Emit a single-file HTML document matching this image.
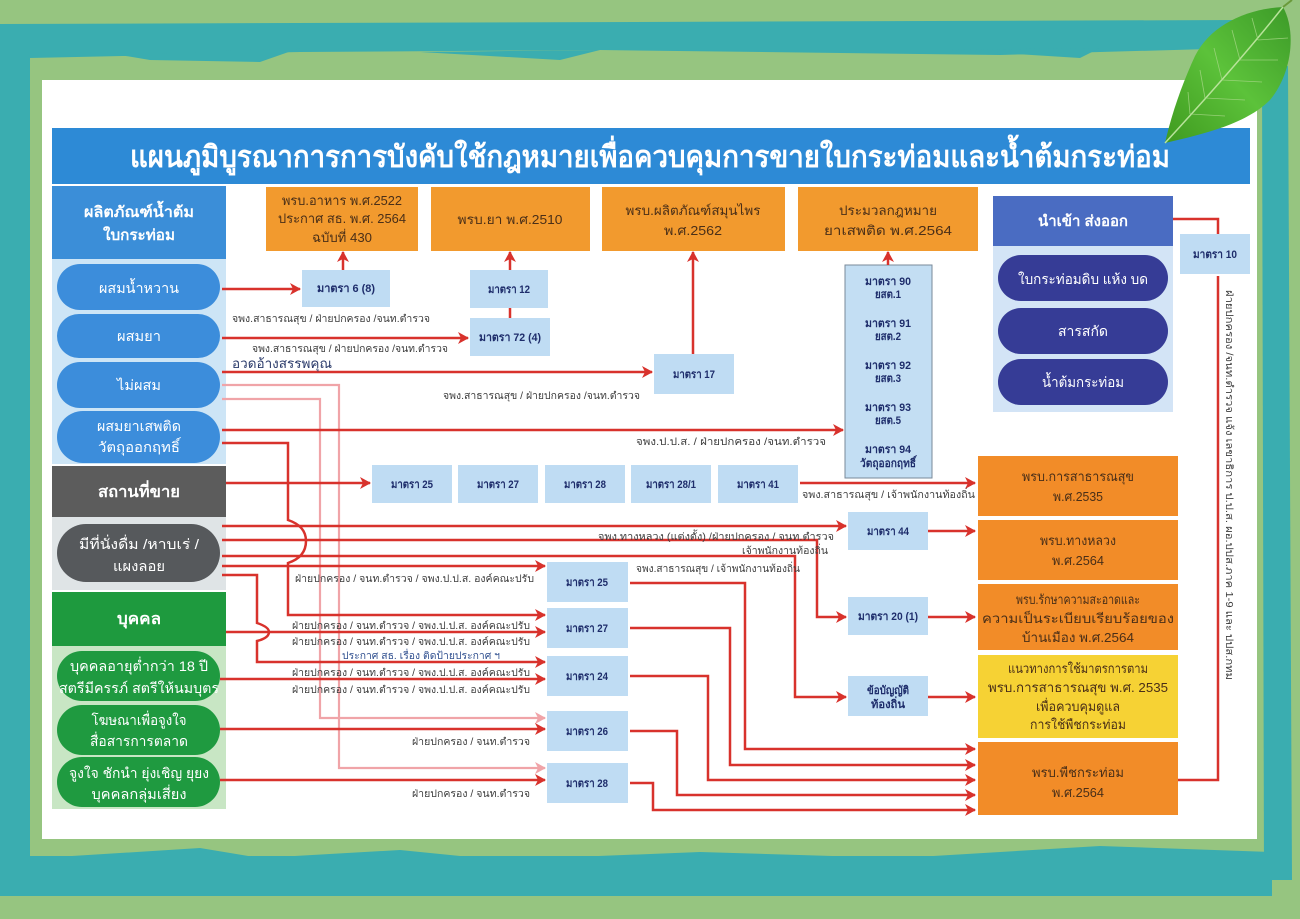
<!DOCTYPE html>
<html><head><meta charset="utf-8"><style>
html,body{margin:0;padding:0;background:#96c580;}
svg{display:block;}
text{font-family:"Liberation Sans","DejaVu Sans",sans-serif;}
</style></head><body>
<svg width="1300" height="919" viewBox="0 0 1300 919" xmlns="http://www.w3.org/2000/svg">
<defs>
<marker id="ar" markerUnits="userSpaceOnUse" markerWidth="12" markerHeight="12" refX="10" refY="6" orient="auto"><path d="M0,0 L11,6 L0,12 L3,6 z" fill="#d8322c"/></marker>
<marker id="ap" markerUnits="userSpaceOnUse" markerWidth="12" markerHeight="12" refX="10" refY="6" orient="auto"><path d="M0,0 L11,6 L0,12 L3,6 z" fill="#f0a4a8"/></marker>
<linearGradient id="lf" x1="0" y1="1" x2="1" y2="0"><stop offset="0" stop-color="#3f9a1f"/><stop offset="0.5" stop-color="#5cc23a"/><stop offset="1" stop-color="#3c9a28"/></linearGradient>
</defs>
<!-- frame -->
<rect x="0" y="0" width="1300" height="919" fill="#96c580"/>
<path d="M0,24 L1240,20 L1245,48 L1100,52 L1000,55 L600,50 L300,52 L30,58 L30,895 L0,895 Z" fill="#3aadb0"/>
<path d="M120,55 L300,48 L260,62 L150,60 Z M420,52 L600,50 L560,60 Z M950,50 L1100,48 L1080,58 Z" fill="#3aadb0"/>
<rect x="0" y="856" width="1272" height="40" fill="#3aadb0"/>
<path d="M40,858 L200,848 L260,858 L400,850 L500,860 L700,852 L900,858 L1100,846 L1272,852 L1272,862 L40,862 Z" fill="#3aadb0"/>
<path d="M1262,70 L1288,66 L1292,880 L1264,880 Z" fill="#3aadb0"/>
<rect x="42" y="80" width="1215" height="759" fill="#ffffff"/>
<!-- title -->
<rect x="52" y="128" width="1198" height="56" fill="#2d8ad6"/>
<text x="650" y="167" font-size="30" font-weight="bold" fill="#fff" text-anchor="middle" textLength="1040" lengthAdjust="spacingAndGlyphs">แผนภูมิบูรณาการการบังคับใช้กฎหมายเพื่อควบคุมการขายใบกระท่อมและน้ำต้มกระท่อม</text>

<!-- left column -->
<rect x="52" y="186" width="174" height="73" fill="#3b8ed8"/>
<text x="139" y="217" font-size="15" font-weight="bold" fill="#fff" text-anchor="middle" textLength="110" lengthAdjust="spacingAndGlyphs">ผลิตภัณฑ์น้ำต้ม</text>
<text x="139" y="240" font-size="15" font-weight="bold" fill="#fff" text-anchor="middle" textLength="72" lengthAdjust="spacingAndGlyphs">ใบกระท่อม</text>
<rect x="52" y="259" width="174" height="205" fill="#cde5f6"/>
<rect x="57" y="264" width="163" height="46" rx="23" fill="#3c8ddb"/>
<rect x="57" y="314" width="163" height="44" rx="22" fill="#3c8ddb"/>
<rect x="57" y="362" width="163" height="46" rx="23" fill="#3c8ddb"/>
<rect x="57" y="411" width="163" height="52" rx="26" fill="#3c8ddb"/>
<text x="139" y="293" font-size="14" fill="#fff" text-anchor="middle" textLength="80" lengthAdjust="spacingAndGlyphs">ผสมน้ำหวาน</text>
<text x="139" y="341" font-size="14" fill="#fff" text-anchor="middle" textLength="44" lengthAdjust="spacingAndGlyphs">ผสมยา</text>
<text x="139" y="390" font-size="14" fill="#fff" text-anchor="middle" textLength="44" lengthAdjust="spacingAndGlyphs">ไม่ผสม</text>
<text x="139" y="431" font-size="14" fill="#fff" text-anchor="middle" textLength="84" lengthAdjust="spacingAndGlyphs">ผสมยาเสพติด</text>
<text x="139" y="452" font-size="14" fill="#fff" text-anchor="middle" textLength="82" lengthAdjust="spacingAndGlyphs">วัตถุออกฤทธิ์</text>

<rect x="52" y="466" width="174" height="51" fill="#5c5c5c"/>
<text x="139" y="497" font-size="16" font-weight="bold" fill="#fff" text-anchor="middle" textLength="82" lengthAdjust="spacingAndGlyphs">สถานที่ขาย</text>
<rect x="52" y="517" width="174" height="73" fill="#dfe4e6"/>
<rect x="57" y="524" width="163" height="58" rx="29" fill="#56595c"/>
<text x="139" y="549" font-size="14" fill="#fff" text-anchor="middle" textLength="120" lengthAdjust="spacingAndGlyphs">มีที่นั่งดื่ม /หาบเร่ /</text>
<text x="139" y="571" font-size="14" fill="#fff" text-anchor="middle" textLength="52" lengthAdjust="spacingAndGlyphs">แผงลอย</text>

<rect x="52" y="592" width="174" height="54" fill="#1e9a3e"/>
<text x="139" y="624" font-size="16" font-weight="bold" fill="#fff" text-anchor="middle" textLength="44" lengthAdjust="spacingAndGlyphs">บุคคล</text>
<rect x="52" y="646" width="174" height="163" fill="#c8e6c4"/>
<rect x="57" y="651" width="163" height="50" rx="25" fill="#1f9a40"/>
<rect x="57" y="705" width="163" height="50" rx="25" fill="#1f9a40"/>
<rect x="57" y="757" width="163" height="50" rx="25" fill="#1f9a40"/>
<text x="139" y="671" font-size="14" fill="#fff" text-anchor="middle" textLength="138" lengthAdjust="spacingAndGlyphs">บุคคลอายุต่ำกว่า 18 ปี</text>
<text x="139" y="693" font-size="14" fill="#fff" text-anchor="middle" textLength="160" lengthAdjust="spacingAndGlyphs">สตรีมีครรภ์ สตรีให้นมบุตร</text>
<text x="139" y="725" font-size="14" fill="#fff" text-anchor="middle" textLength="95" lengthAdjust="spacingAndGlyphs">โฆษณาเพื่อจูงใจ</text>
<text x="139" y="746" font-size="14" fill="#fff" text-anchor="middle" textLength="98" lengthAdjust="spacingAndGlyphs">สื่อสารการตลาด</text>
<text x="139" y="778" font-size="14" fill="#fff" text-anchor="middle" textLength="140" lengthAdjust="spacingAndGlyphs">จูงใจ ชักนำ ยุ่งเชิญ ยุยง</text>
<text x="139" y="799" font-size="14" fill="#fff" text-anchor="middle" textLength="95" lengthAdjust="spacingAndGlyphs">บุคคลกลุ่มเสี่ยง</text>

<!-- top orange boxes -->
<g fill="#f29a2e">
<rect x="266" y="187" width="152" height="64"/>
<rect x="431" y="187" width="159" height="64"/>
<rect x="602" y="187" width="183" height="64"/>
<rect x="798" y="187" width="180" height="64"/>
</g>
<g font-size="13" fill="#4a2f18" text-anchor="middle">
<text x="342" y="205" textLength="120" lengthAdjust="spacingAndGlyphs">พรบ.อาหาร พ.ศ.2522</text>
<text x="342" y="223" textLength="128" lengthAdjust="spacingAndGlyphs">ประกาศ สธ. พ.ศ. 2564</text>
<text x="342" y="242" textLength="60" lengthAdjust="spacingAndGlyphs">ฉบับที่ 430</text>
<text x="510" y="224" textLength="105" lengthAdjust="spacingAndGlyphs">พรบ.ยา พ.ศ.2510</text>
<text x="693" y="215" textLength="135" lengthAdjust="spacingAndGlyphs">พรบ.ผลิตภัณฑ์สมุนไพร</text>
<text x="693" y="235" textLength="58" lengthAdjust="spacingAndGlyphs">พ.ศ.2562</text>
<text x="888" y="215" textLength="98" lengthAdjust="spacingAndGlyphs">ประมวลกฎหมาย</text>
<text x="888" y="235" textLength="128" lengthAdjust="spacingAndGlyphs">ยาเสพติด พ.ศ.2564</text>
</g>

<!-- right navy block -->
<rect x="993" y="196" width="180" height="50" fill="#4a6cc2"/>
<text x="1083" y="226" font-size="15" font-weight="bold" fill="#fff" text-anchor="middle" textLength="90" lengthAdjust="spacingAndGlyphs">นำเข้า ส่งออก</text>
<rect x="993" y="246" width="180" height="166" fill="#d3e4f6"/>
<rect x="998" y="255" width="170" height="46" rx="23" fill="#363c96"/>
<rect x="998" y="308" width="170" height="46" rx="23" fill="#363c96"/>
<rect x="998" y="359" width="170" height="46" rx="23" fill="#363c96"/>
<text x="1083" y="284" font-size="14" fill="#fff" text-anchor="middle" textLength="130" lengthAdjust="spacingAndGlyphs">ใบกระท่อมดิบ แห้ง บด</text>
<text x="1083" y="336" font-size="14" fill="#fff" text-anchor="middle" textLength="50" lengthAdjust="spacingAndGlyphs">สารสกัด</text>
<text x="1083" y="387" font-size="14" fill="#fff" text-anchor="middle" textLength="82" lengthAdjust="spacingAndGlyphs">น้ำต้มกระท่อม</text>

<!-- right orange boxes -->
<rect x="978" y="456" width="200" height="60" fill="#f28c28"/>
<rect x="978" y="520" width="200" height="60" fill="#f28c28"/>
<rect x="978" y="584" width="200" height="66" fill="#f28c28"/>
<rect x="978" y="655" width="200" height="83" fill="#f6d234"/>
<rect x="978" y="742" width="200" height="73" fill="#f28c28"/>
<g font-size="13" fill="#4a2f18" text-anchor="middle">
<text x="1078" y="481" textLength="112" lengthAdjust="spacingAndGlyphs">พรบ.การสาธารณสุข</text>
<text x="1078" y="501" textLength="50" lengthAdjust="spacingAndGlyphs">พ.ศ.2535</text>
<text x="1078" y="545" textLength="76" lengthAdjust="spacingAndGlyphs">พรบ.ทางหลวง</text>
<text x="1078" y="565" textLength="52" lengthAdjust="spacingAndGlyphs">พ.ศ.2564</text>
<text x="1078" y="604" textLength="124" lengthAdjust="spacingAndGlyphs">พรบ.รักษาความสะอาดและ</text>
<text x="1078" y="623" textLength="192" lengthAdjust="spacingAndGlyphs">ความเป็นระเบียบเรียบร้อยของ</text>
<text x="1078" y="642" textLength="112" lengthAdjust="spacingAndGlyphs">บ้านเมือง พ.ศ.2564</text>
<text x="1078" y="673" textLength="140" lengthAdjust="spacingAndGlyphs">แนวทางการใช้มาตรการตาม</text>
<text x="1078" y="692" textLength="180" lengthAdjust="spacingAndGlyphs">พรบ.การสาธารณสุข พ.ศ. 2535</text>
<text x="1078" y="711" textLength="84" lengthAdjust="spacingAndGlyphs">เพื่อควบคุมดูแล</text>
<text x="1078" y="729" textLength="96" lengthAdjust="spacingAndGlyphs">การใช้พืชกระท่อม</text>
<text x="1078" y="777" textLength="92" lengthAdjust="spacingAndGlyphs">พรบ.พืชกระท่อม</text>
<text x="1078" y="797" textLength="52" lengthAdjust="spacingAndGlyphs">พ.ศ.2564</text>
</g>

<!-- light blue small boxes -->
<g fill="#bfdcf3">
<rect x="302" y="270" width="88" height="37"/>
<rect x="470" y="270" width="78" height="38"/>
<rect x="470" y="318" width="80" height="38"/>
<rect x="654" y="354" width="80" height="40"/>
<rect x="1180" y="234" width="70" height="40"/>
<rect x="372" y="465" width="80" height="38"/>
<rect x="458" y="465" width="80" height="38"/>
<rect x="545" y="465" width="80" height="38"/>
<rect x="631" y="465" width="80" height="38"/>
<rect x="718" y="465" width="80" height="38"/>
<rect x="848" y="512" width="80" height="38"/>
<rect x="848" y="597" width="80" height="38"/>
<rect x="848" y="676" width="80" height="40"/>
<rect x="547" y="562" width="81" height="40"/>
<rect x="547" y="608" width="81" height="40"/>
<rect x="547" y="656" width="81" height="40"/>
<rect x="547" y="711" width="81" height="40"/>
<rect x="547" y="763" width="81" height="40"/>
</g>
<rect x="845" y="265" width="87" height="213" fill="#c3def3" stroke="#7a8a9a" stroke-width="1"/>
<g font-size="11" font-weight="bold" fill="#1e2d6b" text-anchor="middle">
<text x="346" y="292" textLength="58" lengthAdjust="spacingAndGlyphs">มาตรา 6 (8)</text>
<text x="509" y="293" textLength="42" lengthAdjust="spacingAndGlyphs">มาตรา 12</text>
<text x="510" y="341" textLength="62" lengthAdjust="spacingAndGlyphs">มาตรา 72 (4)</text>
<text x="694" y="378" textLength="42" lengthAdjust="spacingAndGlyphs">มาตรา 17</text>
<text x="1215" y="258" textLength="44" lengthAdjust="spacingAndGlyphs">มาตรา 10</text>
<text x="888" y="285" textLength="46" lengthAdjust="spacingAndGlyphs">มาตรา 90</text>
<text x="888" y="298" textLength="26" lengthAdjust="spacingAndGlyphs">ยสต.1</text>
<text x="888" y="327" textLength="46" lengthAdjust="spacingAndGlyphs">มาตรา 91</text>
<text x="888" y="340" textLength="26" lengthAdjust="spacingAndGlyphs">ยสต.2</text>
<text x="888" y="369" textLength="46" lengthAdjust="spacingAndGlyphs">มาตรา 92</text>
<text x="888" y="382" textLength="26" lengthAdjust="spacingAndGlyphs">ยสต.3</text>
<text x="888" y="411" textLength="46" lengthAdjust="spacingAndGlyphs">มาตรา 93</text>
<text x="888" y="424" textLength="26" lengthAdjust="spacingAndGlyphs">ยสต.5</text>
<text x="888" y="453" textLength="46" lengthAdjust="spacingAndGlyphs">มาตรา 94</text>
<text x="888" y="467" textLength="56" lengthAdjust="spacingAndGlyphs">วัตถุออกฤทธิ์</text>
<text x="412" y="488" textLength="42" lengthAdjust="spacingAndGlyphs">มาตรา 25</text>
<text x="498" y="488" textLength="42" lengthAdjust="spacingAndGlyphs">มาตรา 27</text>
<text x="585" y="488" textLength="42" lengthAdjust="spacingAndGlyphs">มาตรา 28</text>
<text x="671" y="488" textLength="50" lengthAdjust="spacingAndGlyphs">มาตรา 28/1</text>
<text x="758" y="488" textLength="42" lengthAdjust="spacingAndGlyphs">มาตรา 41</text>
<text x="888" y="535" textLength="42" lengthAdjust="spacingAndGlyphs">มาตรา 44</text>
<text x="888" y="620" textLength="60" lengthAdjust="spacingAndGlyphs">มาตรา 20 (1)</text>
<text x="888" y="694" textLength="42" lengthAdjust="spacingAndGlyphs">ข้อบัญญัติ</text>
<text x="888" y="708" textLength="34" lengthAdjust="spacingAndGlyphs">ท้องถิ่น</text>
<text x="587" y="586" textLength="42" lengthAdjust="spacingAndGlyphs">มาตรา 25</text>
<text x="587" y="632" textLength="42" lengthAdjust="spacingAndGlyphs">มาตรา 27</text>
<text x="587" y="680" textLength="42" lengthAdjust="spacingAndGlyphs">มาตรา 24</text>
<text x="587" y="735" textLength="42" lengthAdjust="spacingAndGlyphs">มาตรา 26</text>
<text x="587" y="787" textLength="42" lengthAdjust="spacingAndGlyphs">มาตรา 28</text>
</g>

<!-- connectors -->
<g fill="none" stroke="#f0a4a8" stroke-width="2.2">
<path d="M222,385 H339 V768 H545" marker-end="url(#ap)"/>
<path d="M222,399 H320 V718 H545" marker-end="url(#ap)"/>
</g>
<g fill="none" stroke="#d8322c" stroke-width="2.5">
<path d="M222,289 H300" marker-end="url(#ar)"/>
<path d="M222,338 H468" marker-end="url(#ar)"/>
<path d="M222,372 H652" marker-end="url(#ar)"/>
<path d="M222,430 H843" marker-end="url(#ar)"/>
<path d="M222,443 H288 V520 Q306,526 306,541 Q306,557 288,563 V615 H545" marker-end="url(#ar)"/>
<path d="M226,483 H370" marker-end="url(#ar)"/>
<path d="M222,526 H846" marker-end="url(#ar)"/>
<path d="M222,540 H817 V617 H846" marker-end="url(#ar)"/>
<path d="M222,556 H795 V697 H846" marker-end="url(#ar)"/>
<path d="M222,566 H545" marker-end="url(#ar)"/>
<path d="M222,575 H257 V623 Q269,627 269,632 Q269,638 257,641 V662 H545" marker-end="url(#ar)"/>
<path d="M226,632 H545" marker-end="url(#ar)"/>
<path d="M220,679 H545" marker-end="url(#ar)"/>
<path d="M220,729 H545" marker-end="url(#ar)"/>
<path d="M220,780 H545" marker-end="url(#ar)"/>
<path d="M343,270 V252" marker-end="url(#ar)"/>
<path d="M510,270 V252" marker-end="url(#ar)"/>
<path d="M510,308 V318"/>
<path d="M693,354 V252" marker-end="url(#ar)"/>
<path d="M888,265 V252" marker-end="url(#ar)"/>
<path d="M800,483 H975" marker-end="url(#ar)"/>
<path d="M928,531 H975" marker-end="url(#ar)"/>
<path d="M928,617 H975" marker-end="url(#ar)"/>
<path d="M928,697 H975" marker-end="url(#ar)"/>
<path d="M630,583 H745 V749 H975" marker-end="url(#ar)"/>
<path d="M630,628 H730 V765 H975" marker-end="url(#ar)"/>
<path d="M630,676 H708 V780 H975" marker-end="url(#ar)"/>
<path d="M630,731 H677 V795 H975" marker-end="url(#ar)"/>
<path d="M630,783 H653 V810 H975" marker-end="url(#ar)"/>
<path d="M1173,219 H1218 V234"/>
<path d="M1218,276 V780 H1178"/>
</g>

<!-- connector labels -->
<g font-size="10" fill="#3d3d3d">
<text x="232" y="322" textLength="198" lengthAdjust="spacingAndGlyphs">จพง.สาธารณสุข / ฝ่ายปกครอง /จนท.ตำรวจ</text>
<text x="252" y="352" textLength="196" lengthAdjust="spacingAndGlyphs">จพง.สาธารณสุข / ฝ่ายปกครอง /จนท.ตำรวจ</text>
<text x="443" y="399" textLength="197" lengthAdjust="spacingAndGlyphs">จพง.สาธารณสุข / ฝ่ายปกครอง /จนท.ตำรวจ</text>
<text x="636" y="445" textLength="190" lengthAdjust="spacingAndGlyphs">จพง.ป.ป.ส. / ฝ่ายปกครอง /จนท.ตำรวจ</text>
<text x="802" y="498" textLength="173" lengthAdjust="spacingAndGlyphs">จพง.สาธารณสุข / เจ้าพนักงานท้องถิ่น</text>
<text x="598" y="540" textLength="236" lengthAdjust="spacingAndGlyphs">จพง.ทางหลวง (แต่งตั้ง) /ฝ่ายปกครอง / จนท.ตำรวจ</text>
<text x="742" y="554" textLength="86" lengthAdjust="spacingAndGlyphs">เจ้าพนักงานท้องถิ่น</text>
<text x="636" y="572" textLength="164" lengthAdjust="spacingAndGlyphs">จพง.สาธารณสุข / เจ้าพนักงานท้องถิ่น</text>
<text x="295" y="582" textLength="239" lengthAdjust="spacingAndGlyphs">ฝ่ายปกครอง / จนท.ตำรวจ / จพง.ป.ป.ส. องค์คณะปรับ</text>
<text x="292" y="629" textLength="238" lengthAdjust="spacingAndGlyphs">ฝ่ายปกครอง / จนท.ตำรวจ / จพง.ป.ป.ส. องค์คณะปรับ</text>
<text x="292" y="645" textLength="238" lengthAdjust="spacingAndGlyphs">ฝ่ายปกครอง / จนท.ตำรวจ / จพง.ป.ป.ส. องค์คณะปรับ</text>
<text x="292" y="676" textLength="238" lengthAdjust="spacingAndGlyphs">ฝ่ายปกครอง / จนท.ตำรวจ / จพง.ป.ป.ส. องค์คณะปรับ</text>
<text x="292" y="693" textLength="238" lengthAdjust="spacingAndGlyphs">ฝ่ายปกครอง / จนท.ตำรวจ / จพง.ป.ป.ส. องค์คณะปรับ</text>
<text x="412" y="745" textLength="118" lengthAdjust="spacingAndGlyphs">ฝ่ายปกครอง / จนท.ตำรวจ</text>
<text x="412" y="797" textLength="118" lengthAdjust="spacingAndGlyphs">ฝ่ายปกครอง / จนท.ตำรวจ</text>
</g>
<text x="342" y="659" font-size="10" fill="#2f4f8f" textLength="158" lengthAdjust="spacingAndGlyphs">ประกาศ สธ. เรื่อง ติดป้ายประกาศ ฯ</text>
<text x="232" y="368" font-size="13" fill="#2a3a6a" textLength="100" lengthAdjust="spacingAndGlyphs">อวดอ้างสรรพคุณ</text>
<text transform="translate(1226,290) rotate(90)" font-size="10" fill="#3d3d3d" textLength="390" lengthAdjust="spacingAndGlyphs">ฝ่ายปกครอง /จนท.ตำรวจ แจ้ง เลขาธิการ ป.ป.ส. ผอ.ปปส.ภาค 1-9 และ ปปส.กทม</text>

<!-- leaf -->
<path d="M1165,143 C1172,112 1183,82 1195,56 C1210,26 1245,9 1283,7 C1296,30 1293,72 1270,100 C1246,124 1204,134 1165,143 Z" fill="url(#lf)"/>
<path d="M1165,143 C1200,105 1245,55 1283,7" stroke="#b8e39a" stroke-width="1.5" fill="none"/>
<path d="M1283,7 L1292,0" stroke="#6a9a3a" stroke-width="2"/>
<g stroke="#a8d888" stroke-width="0.8" fill="none" opacity="0.8">
<path d="M1190,114 L1188,92"/><path d="M1205,98 L1200,70"/><path d="M1222,80 L1214,48"/><path d="M1240,60 L1232,30"/><path d="M1258,40 L1252,18"/>
<path d="M1190,114 L1225,116"/><path d="M1205,98 L1245,100"/><path d="M1222,80 L1262,82"/><path d="M1240,60 L1278,60"/><path d="M1258,40 L1288,38"/>
</g>
</svg>
</body></html>
